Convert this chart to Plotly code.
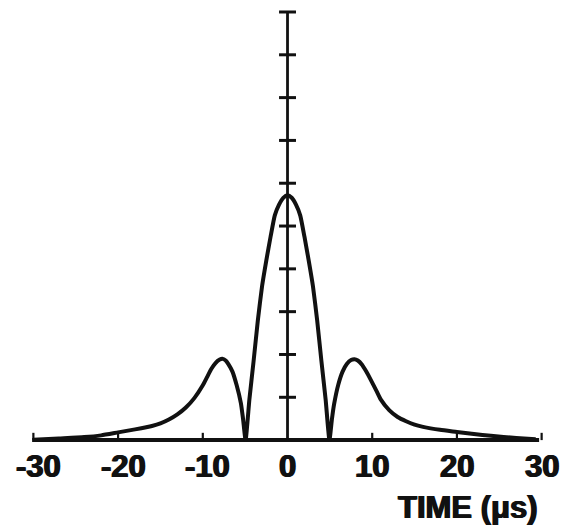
import plotly.graph_objects as go

# Data
time_us = [-30, -27, -24, -22, -20, -18, -16, -15, -14, -13, -12, -11, -10, -9.5, -9, -8.5, -8, -7.7,
           -7.3, -7, -6.5, -6, -5.5, -5.25, -4.95,
           -4.5, -4, -3.5, -3, -2.5, -2, -1.5, -1, -0.5, 0, 0.5, 1, 1.5, 2, 2.5, 3, 3.5, 4, 4.5,
           4.95, 5.25, 5.5, 6, 6.5, 7, 7.5, 7.9, 8.3, 8.8, 9.3, 9.8, 10.5, 11, 12, 13, 14, 15, 16,
           18, 20, 22, 24, 27, 29.3]
amplitude = [0.01, 0.04, 0.07, 0.11, 0.18, 0.25, 0.33, 0.39, 0.48, 0.60, 0.76, 0.98, 1.28, 1.47, 1.66,
             1.80, 1.88, 1.90, 1.86, 1.78, 1.60, 1.28, 0.86, 0.50, 0.0,
             0.95, 1.85, 2.8, 3.6, 4.2, 4.75, 5.25, 5.5, 5.66, 5.72, 5.66, 5.5, 5.25, 4.75, 4.2, 3.6,
             2.8, 1.85, 0.95,
             0.0, 0.50, 0.84, 1.30, 1.60, 1.78, 1.87, 1.89, 1.86, 1.76, 1.60, 1.42, 1.15, 0.95, 0.70,
             0.54, 0.44, 0.36, 0.31, 0.24, 0.19, 0.14, 0.10, 0.05, 0.02]

x_tick_vals = [-30, -20, -10, 0, 10, 20, 30]
x_tick_text = ["-30", "-20", "-10", "0", "10", "20", "30"]
y_tick_vals = [1, 2, 3, 4, 5, 6, 7, 8, 9, 10]
x_axis_span = [-30.15, 29.7]
y_axis_top = 10
x_title = "TIME (μs)"

INK = "#111111"
HEAVY = "0.7px 0px 0px #111111, -0.7px 0px 0px #111111"
fig = go.Figure()

# baseline (x axis)
fig.add_trace(go.Scatter(x=x_axis_span, y=[0, 0], mode="lines",
                         line=dict(color=INK, width=4), hoverinfo="skip"))
# small upward ticks on x axis
tx, ty = [], []
for v in x_tick_vals:
    if v == 0:
        continue
    tx += [v, v, None]
    ty += [0, 0.17, None]
fig.add_trace(go.Scatter(x=tx, y=ty, mode="lines", line=dict(color=INK, width=2.2),
                         hoverinfo="skip"))
# vertical axis at t = 0
fig.add_trace(go.Scatter(x=[0, 0], y=[0, y_axis_top], mode="lines",
                         line=dict(color=INK, width=2.8), hoverinfo="skip"))
vx, vy = [], []
for v in y_tick_vals:
    vx += [-1.0, 1.0, None]
    vy += [v, v, None]
fig.add_trace(go.Scatter(x=vx, y=vy, mode="lines", line=dict(color=INK, width=3),
                         hoverinfo="skip"))
# the curve
fig.add_trace(go.Scatter(x=time_us, y=amplitude, mode="lines",
                         line=dict(color=INK, width=4, shape="spline", smoothing=0.5),
                         hoverinfo="skip"))

font = dict(family="Liberation Sans", size=31, color=INK, weight="bold", shadow=HEAVY)
for v, t in zip(x_tick_vals, x_tick_text):
    fig.add_annotation(x=v, y=-0.62, text=t, showarrow=False, xanchor="center", yanchor="middle",
                       xshift=5 if t.startswith("-") else 0, font=font)
fig.add_annotation(x=21.3, y=-1.57, text=x_title, showarrow=False, xanchor="center",
                   yanchor="middle",
                   font=dict(family="Liberation Sans", size=31, color=INK, weight="bold", shadow=HEAVY))

fig.update_layout(
    width=564, height=530, margin=dict(l=0, r=0, t=0, b=0),
    paper_bgcolor="white", plot_bgcolor="white", showlegend=False,
    xaxis=dict(range=[-33.94, 32.64], visible=False, fixedrange=True),
    yaxis=dict(range=[-2.10, 10.28], visible=False, fixedrange=True),
)
fig.write_html("out.html")
